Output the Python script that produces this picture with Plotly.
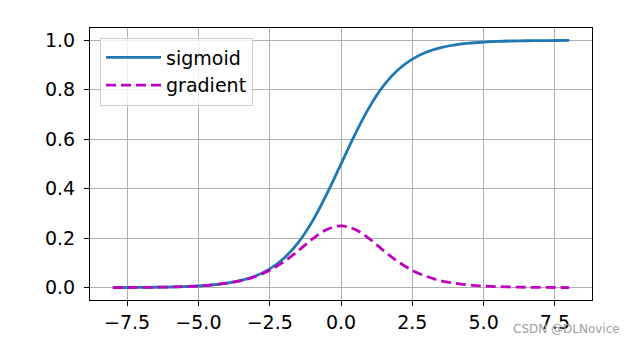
import plotly.graph_objects as go

# Sample points along the input axis
x = [-8.0, -7.5, -7.0, -6.5, -6.0, -5.5, -5.0, -4.5, -4.0, -3.5, -3.0, -2.5,
     -2.0, -1.5, -1.0, -0.5, 0.0, 0.5, 1.0, 1.5, 2.0, 2.5, 3.0, 3.5, 4.0,
     4.5, 5.0, 5.5, 6.0, 6.5, 7.0, 7.5, 8.0]

# Sigmoid output at each sample
sigmoid = [0.0003, 0.0006, 0.0009, 0.0015, 0.0025, 0.0041, 0.0067, 0.011,
           0.018, 0.029, 0.047, 0.076, 0.119, 0.182, 0.269, 0.378, 0.5,
           0.622, 0.731, 0.818, 0.881, 0.924, 0.953, 0.971, 0.982, 0.989,
           0.993, 0.996, 0.9975, 0.9985, 0.999, 0.9994, 0.9997]

# Derivative of the sigmoid at each sample
gradient = [0.0003, 0.0006, 0.0009, 0.0015, 0.0025, 0.0041, 0.0066, 0.011,
            0.018, 0.028, 0.045, 0.070, 0.105, 0.149, 0.197, 0.235, 0.25,
            0.235, 0.197, 0.149, 0.105, 0.070, 0.045, 0.028, 0.018, 0.011,
            0.0066, 0.0041, 0.0025, 0.0015, 0.0009, 0.0006, 0.0003]

x_ticks = [-7.5, -5.0, -2.5, 0.0, 2.5, 5.0, 7.5]
x_tick_text = ["\u22127.5", "\u22125.0", "\u22122.5", "0.0", "2.5", "5.0", "7.5"]
y_ticks = [0.0, 0.2, 0.4, 0.6, 0.8, 1.0]
y_tick_text = ["0.0", "0.2", "0.4", "0.6", "0.8", "1.0"]

FONT = "DejaVu Sans"

fig = go.Figure()
fig.add_trace(go.Scatter(
    x=x, y=sigmoid, name="sigmoid", mode="lines",
    line=dict(color="#1f77b4", width=2.8, shape="spline", smoothing=1.0),
))
fig.add_trace(go.Scatter(
    x=x, y=gradient, name="gradient", mode="lines",
    line=dict(color="#bf00bf", width=2.8, dash="10px,5px",
              shape="spline", smoothing=1.0),
))

axis_common = dict(
    showline=True, linecolor="black", linewidth=1.2, mirror=True,
    ticks="outside", ticklen=5, tickwidth=1.2, tickcolor="black",
    showgrid=True, gridcolor="#b0b0b0", gridwidth=1.2,
    zeroline=False,
    tickfont=dict(family=FONT, size=19, color="black"),
)

fig.update_xaxes(range=[-8.8, 8.8], tickvals=x_ticks, ticktext=x_tick_text,
                 **axis_common)
fig.update_yaxes(range=[-0.05, 1.05], tickvals=y_ticks, ticktext=y_tick_text,
                 ticklabelstandoff=5, **axis_common)

fig.update_layout(
    width=637, height=344,
    margin=dict(l=90, r=45, t=28, b=44),
    plot_bgcolor="white", paper_bgcolor="white",
    font=dict(family=FONT, size=19, color="black"),
    showlegend=True,
    legend=dict(
        x=0.02, y=0.965, xanchor="left", yanchor="top",
        bgcolor="rgba(255,255,255,0.8)", bordercolor="#d0d0d0", borderwidth=1,
        font=dict(family=FONT, size=19, color="black"),
        tracegroupgap=0, itemwidth=55,
    ),
    annotations=[dict(
        text="CSDN @DLNovice", xref="paper", yref="paper",
        x=1.06, y=-0.107, xanchor="right", yanchor="middle",
        showarrow=False,
        font=dict(family=FONT, size=12, color="#a0a0a0"),
    )],
)

fig.write_html("out.html")
